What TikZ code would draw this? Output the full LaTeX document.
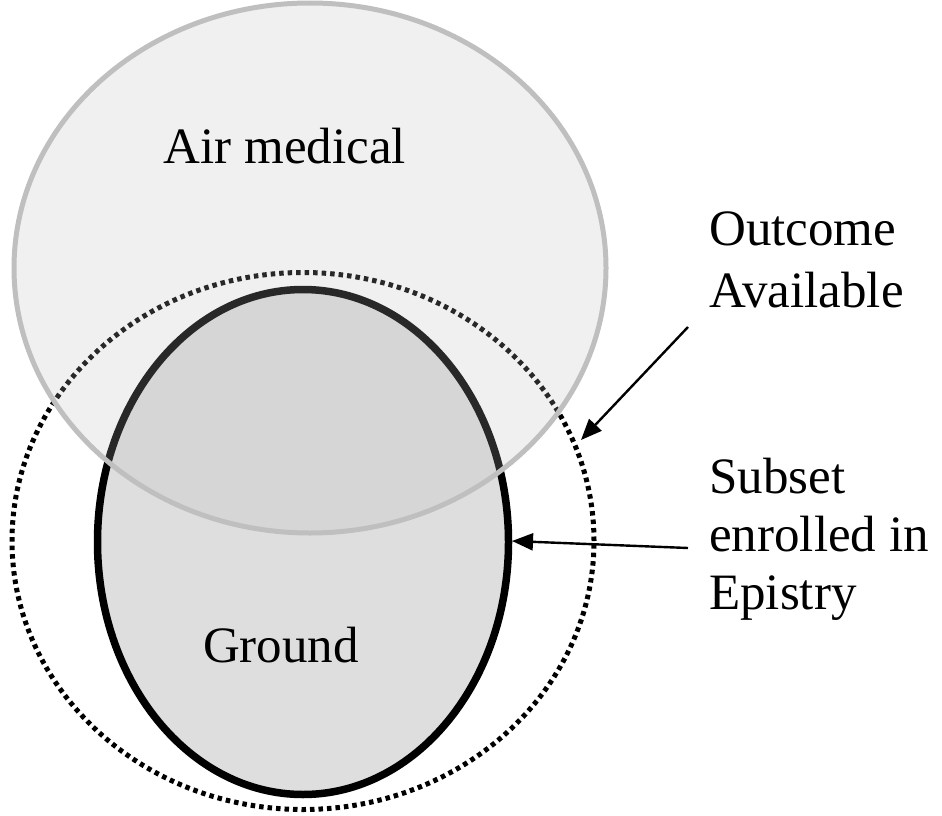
\documentclass[tikz,border=0pt]{standalone}
\usepackage{fontspec}
\setmainfont{Liberation Serif}
\usetikzlibrary{shapes.geometric,arrows.meta}
\begin{document}
\begin{tikzpicture}[x=1pt,y=-1pt,
  lbl/.style={font=\fontsize{51}{58}\selectfont, inner sep=0pt, align=left},
  setshape/.style={ellipse, inner sep=0pt, outer sep=0pt},
  conn/.style={line width=2.4pt, -{Triangle[length=21pt,width=17pt]}}]
\useasboundingbox (0,0) rectangle (942,816);
% Ground (subset enrolled in Epistry)
\node[setshape, minimum width=411pt, minimum height=505pt, fill=black!13, draw=black, line width=7.5pt] (ground) at (303,542) {};
% Outcome available (dotted)
\node[setshape, minimum width=582pt, minimum height=537pt, draw=black, line width=5pt, dash pattern=on 4.5pt off 4pt] (outcomeset) at (303,541) {};
% Air medical (semi-transparent)
\node[setshape, minimum width=592pt, minimum height=530pt, fill=black!27, fill opacity=0.22, draw=black!25, draw opacity=1, line width=5pt] (air) at (310,268) {};
% labels
\node[lbl, anchor=base] (airlbl) at (285,163) {Air medical};
\node[lbl, anchor=base] (groundlbl) at (281,662) {Ground};
\node[lbl, anchor=north west, font=\fontsize{51}{62}\selectfont] (outcome) at (709,212) {Outcome\\Available};
\node[lbl, anchor=north west] (subset) at (709,458) {Subset\\enrolled in\\Epistry};
% connectors
\coordinate (otail) at (688,327);
\coordinate (otip) at (581,440);
\coordinate (stail) at (688,548);
\coordinate (stip) at (512,541);
\draw[conn] (otail) -- (otip);
\draw[conn] (stail) -- (stip);
\end{tikzpicture}
\end{document}
